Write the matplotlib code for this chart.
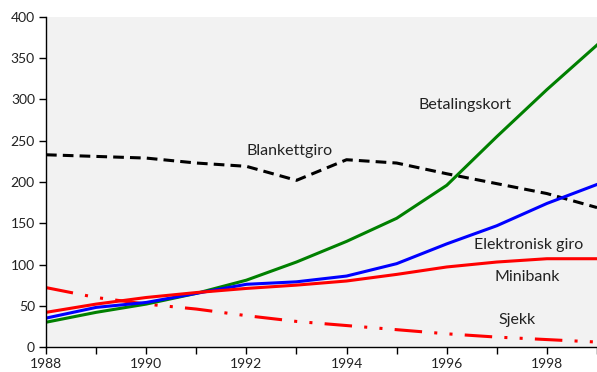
import matplotlib
matplotlib.use("Agg")
import matplotlib.pyplot as plt
from matplotlib.ticker import MultipleLocator

years = list(range(1988, 2000))
blankettgiro = [233, 231, 229, 223, 219, 202, 227, 223, 210, 198, 186, 169]
betalingskort = [30, 42, 52, 65, 81, 103, 128, 156, 196, 255, 312, 366]
elektronisk_giro = [35, 48, 54, 65, 76, 79, 86, 101, 125, 147, 174, 197]
minibank = [42, 52, 60, 66, 71, 75, 80, 88, 97, 103, 107, 107]
sjekk = [72, 60, 52, 46, 38, 31, 26, 21, 16, 12, 9, 6]

x_tick_labels = ["1988", "", "1990", "", "1992", "", "1994", "", "1996", "", "1998", ""]

plt.rcParams["font.family"] = ["Lato", "DejaVu Sans"]

fig = plt.figure(figsize=(5.97, 3.72), dpi=100)
ax = fig.add_axes([46 / 597, 25 / 372, 551 / 597, 330 / 372])
ax.set_facecolor("#f2f2f2")

lw = 2.2
ax.plot(years, sjekk, color="#ff0000", lw=lw, dashes=(9, 4, 1, 4, 1, 4))
ax.plot(years, blankettgiro, color="black", lw=lw, dashes=(3.5, 2))
ax.plot(years, betalingskort, color="#008000", lw=lw)
ax.plot(years, elektronisk_giro, color="#0000ff", lw=lw)
ax.plot(years, minibank, color="#ff0000", lw=lw)

ax.set_xlim(1988, 1999)
ax.set_ylim(0, 400)
ax.set_xticks(years)
ax.set_xticklabels(x_tick_labels)
ax.yaxis.set_major_locator(MultipleLocator(50))

for s in ("top", "right"):
    ax.spines[s].set_visible(False)
for s in ("left", "bottom"):
    ax.spines[s].set_linewidth(1.0)
    ax.spines[s].set_color("black")

ax.tick_params(axis="both", direction="out", length=5, width=1, labelsize=10,
               colors="black", labelcolor="#222222", pad=3)

label_kw = dict(fontsize=11.5, ha="center", va="center", color="#222222")
ax.text(1996.36, 293, "Betalingskort", **label_kw)
ax.text(1992.87, 238, "Blankettgiro", **label_kw)
ax.text(1997.64, 124, "Elektronisk giro", **label_kw)
ax.text(1997.6, 85, "Minibank", **label_kw)
ax.text(1997.4, 32.5, "Sjekk", **label_kw)

fig.savefig("out.png", dpi=100)
